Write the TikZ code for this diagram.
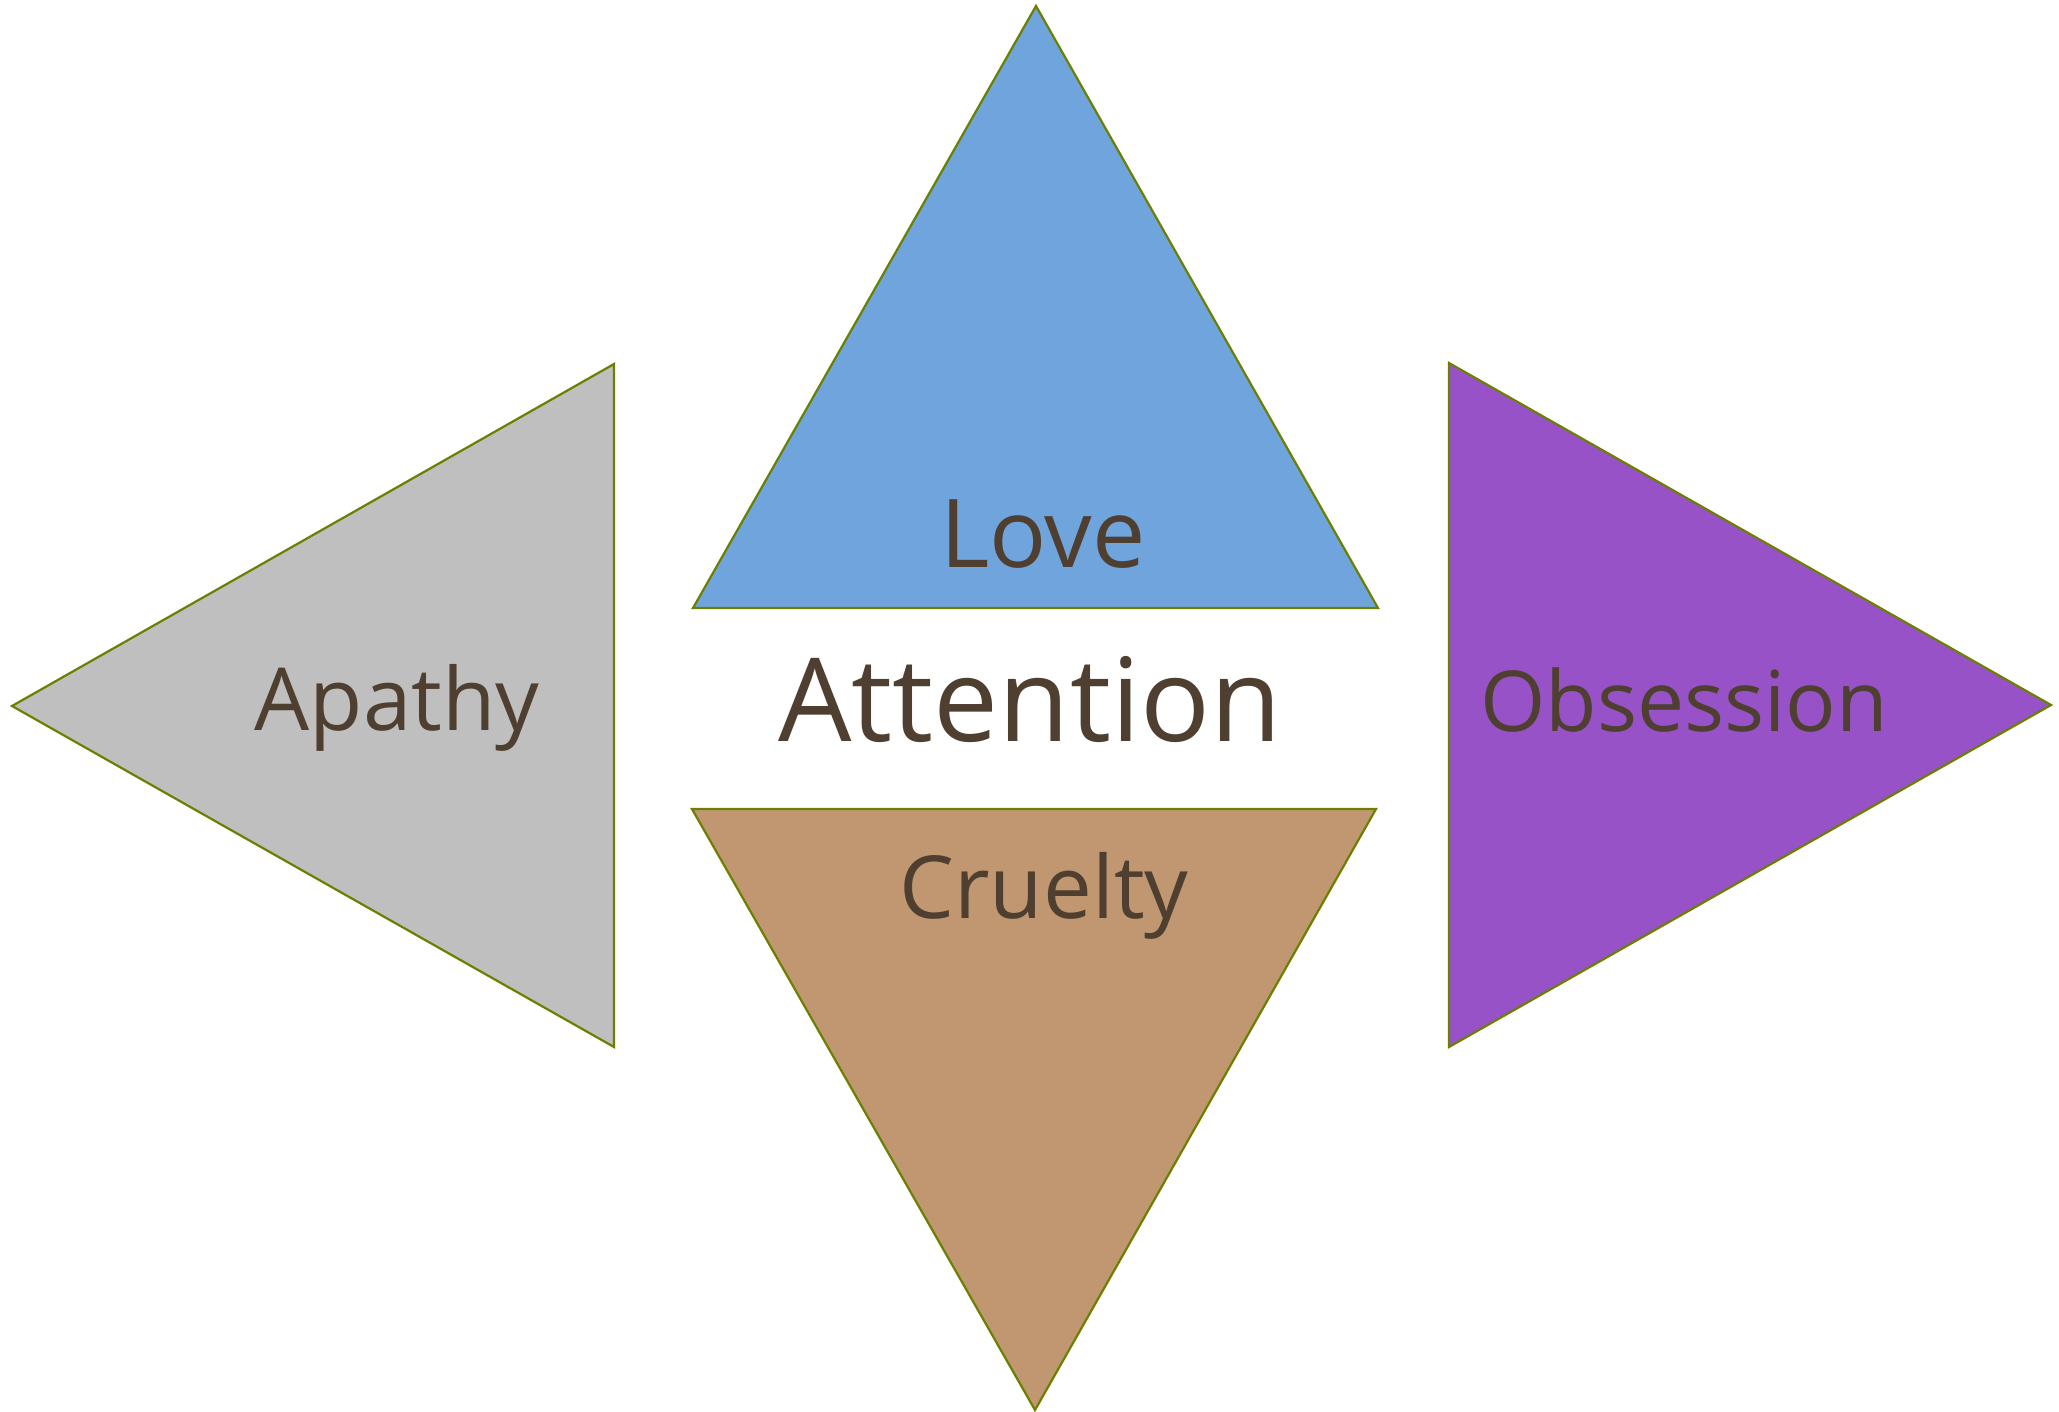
\documentclass[tikz,border=0pt]{standalone}
\usepackage{fontspec}
\setmainfont{Open Sans}
\definecolor{edge}{HTML}{6B8000}
\definecolor{ink}{HTML}{4F3F30}
\definecolor{lovefill}{HTML}{6FA4DC}
\definecolor{apathyfill}{HTML}{BFBFBF}
\definecolor{crueltyfill}{HTML}{C09770}
\definecolor{obsessionfill}{HTML}{9752C8}
\tikzset{
  wedge/.style={draw=edge, line width=2.2pt, line join=miter},
  word/.style={text=ink, anchor=base, inner sep=0pt},
}
\begin{document}
\begin{tikzpicture}[x=1pt, y=-1pt]
\useasboundingbox (0,0) rectangle (2059,1412);
% four triangles around the centre
\filldraw[wedge, fill=lovefill] (1036,6) -- (1378,608) -- (693,608) -- cycle;
\filldraw[wedge, fill=crueltyfill] (692,809) -- (1376,809) -- (1035,1410) -- cycle;
\filldraw[wedge, fill=apathyfill] (12,706) -- (614,364) -- (614,1047) -- cycle;
\filldraw[wedge, fill=obsessionfill] (1449,363) -- (2051,705) -- (1449,1047) -- cycle;
% labels
\node[word, font=\fontsize{95}{100}\selectfont] (love) at (1043,567) {Love};
\node[word, font=\fontsize{116}{120}\selectfont] (attention) at (1030,741) {Attention};
\node[word, font=\fontsize{87}{90}\selectfont] (apathy) at (397,730) {Apathy};
\node[word, font=\fontsize{84}{90}\selectfont] (obsession) at (1684,731) {Obsession};
\node[word, font=\fontsize{87}{90}\selectfont] (cruelty) at (1044,918) {Cruelty};
\end{tikzpicture}
\end{document}
